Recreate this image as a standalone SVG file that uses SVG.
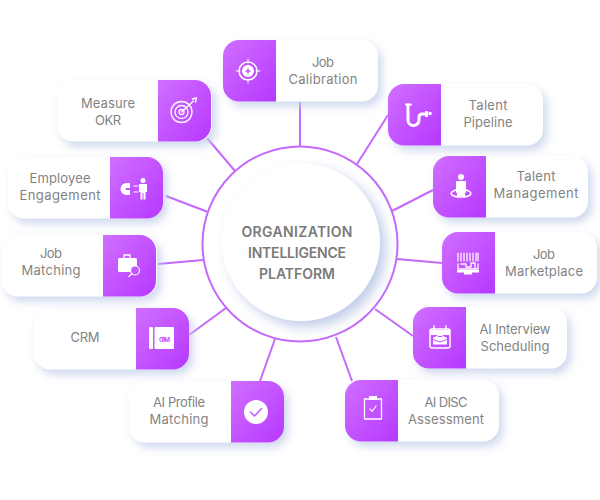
<svg xmlns="http://www.w3.org/2000/svg" width="600" height="500" viewBox="0 0 600 500">
<style>
text{font-family:Inter,"Liberation Sans",sans-serif;font-size:13px;fill:#838383;text-anchor:middle}
.c{font-size:14px;font-weight:600;fill:#7a7a7a}
.conn line{stroke:#c469fb;stroke-width:2}
.card{fill:#fff;filter:url(#sh)}
.wl{fill:none;stroke:#fff;stroke-width:1.500;stroke-linecap:round;stroke-linejoin:round}
.wf{fill:#fff}
.pu{fill:#c458ff}
.pl{fill:none;stroke:#c458ff;stroke-width:1.500;stroke-linecap:round;stroke-linejoin:round}
.grad{fill:url(#g)}
</style>
<defs>
<linearGradient id="g" x1="0" y1="0" x2="1" y2="1"><stop offset="0" stop-color="#d06fff"/><stop offset="1" stop-color="#b638ff"/></linearGradient>
<filter id="sh" x="-20%" y="-30%" width="140%" height="170%"><feDropShadow dx="4" dy="5" stdDeviation="4" flood-color="#c3cfea" flood-opacity=".8"/></filter>
<filter id="sh2" x="-20%" y="-20%" width="140%" height="140%"><feDropShadow dx="6" dy="6" stdDeviation="6" flood-color="#bfcbe8" flood-opacity=".95"/></filter>
<path id="lft" d="M16 0H53V61.500H16A16 16 0 0 1 0 45.500V16A16 16 0 0 1 16 0Z"/>
<path id="rgt" d="M0 0H37A16 16 0 0 1 53 16V45.500A16 16 0 0 1 37 61.500H0Z"/>
</defs>

<g id="connectors" class="conn">
<line x1="300" y1="102" x2="300" y2="148"/>
<line x1="388" y1="115" x2="357" y2="164"/>
<line x1="433" y1="190" x2="392" y2="211"/>
<line x1="442" y1="263" x2="397" y2="259"/>
<line x1="413" y1="336" x2="375" y2="309"/>
<line x1="352" y1="381" x2="336" y2="337"/>
<line x1="260" y1="381" x2="275" y2="339"/>
<line x1="189" y1="335" x2="226" y2="308"/>
<line x1="158" y1="264" x2="203" y2="260"/>
<line x1="166" y1="196" x2="208" y2="212"/>
<line x1="207" y1="138" x2="235" y2="171"/>
</g>

<g id="hub">
<circle cx="300" cy="244" r="97.500" fill="#fff" stroke="#c469fb" stroke-width="2"/>
<circle cx="301" cy="242" r="79" fill="#fff" filter="url(#sh2)"/>
<text class="c" x="297" y="237" textLength="111">ORGANIZATION</text>
<text class="c" x="297" y="258" textLength="98">INTELLIGENCE</text>
<text class="c" x="297" y="279" textLength="76">PLATFORM</text>
</g>

<g id="job-calibration">
<rect class="card" x="223" y="40" width="155" height="61.500" rx="16"/>
<use href="#lft" x="223" y="40" class="grad"/>
<g transform="translate(248,71)"><circle class="wl" r="9" stroke-width="1"/><circle class="wf" r="6"/><path class="pl" d="M-2 0H2M0-2V2"/><path class="wl" d="M0-12V-8M0 8V12M-12 0H-8M8 0H12" style="stroke-width:1"/></g>
<text x="323" y="67" textLength="22">Job</text><text x="323" y="84" textLength="69">Calibration</text>
</g>

<g id="talent-pipeline">
<rect class="card" x="388" y="84" width="155" height="61.500" rx="16"/>
<use href="#lft" x="388" y="84" class="grad"/>
<path class="wl" d="M406 104.500H411" style="stroke-width:2"/><path class="wl" d="M408 105V120A5.500 5.500 0 0 0 419 120V117A3 3 0 0 1 422 114H424" style="stroke-width:3"/><rect class="wf" x="425" y="111" width="3" height="6"/><circle class="wf" cx="430" cy="113.500" r="1.800"/>
<text x="488" y="110" textLength="39">Talent</text><text x="488" y="127" textLength="49">Pipeline</text>
</g>

<g id="talent-management">
<rect class="card" x="433" y="156" width="155" height="61.500" rx="16"/>
<use href="#lft" x="433" y="156" class="grad"/>
<g transform="translate(461,187)"><circle class="wf" cy="-10" r="3"/><rect class="wf" x="-5" y="-6" width="10" height="12" rx="1"/><rect class="wf" x="-4" y="5" width="8" height="4"/><path class="wl" d="M-5 3C-13 5-11 10 0 10S13 5 5 3"/></g>
<text x="536" y="181" textLength="39">Talent</text><text x="536" y="198" textLength="85">Management</text>
</g>

<g id="job-marketplace">
<rect class="card" x="442" y="232" width="155" height="61.500" rx="16"/>
<use href="#lft" x="442" y="232" class="grad"/>
<g transform="translate(468,263)"><path class="wl" d="M-10-10V-2M-7-10V-2M-4-10V-2M-1-10V-2M2-10V-2M5-10V-2M8-10V-2M10-10V-2" style="stroke-width:1.200"/><path class="wl" d="M-10 1V6H10V1M-7 1H-2V4H3V0H7V5" style="stroke-width:1.300"/><rect class="wf" x="-11" y="7" width="22" height="2.500"/><rect class="wf" x="-4" y="9" width="8" height="2.500"/></g>
<text x="544" y="259" textLength="22">Job</text><text x="544" y="276" textLength="78">Marketplace</text>
</g>

<g id="ai-interview-scheduling">
<rect class="card" x="413" y="307" width="154" height="61.500" rx="16"/>
<use href="#lft" x="413" y="307" class="grad"/>
<g transform="translate(440,338)"><rect class="wl" x="-10" y="-9" width="20" height="19" rx="2"/><path class="wf" d="M-10-8H10V-3H-10Z"/><path class="wl" d="M-6-12V-8M6-12V-8"/><path class="wf" d="M-7 0L0-4L7 0V6.500H-7Z"/><path class="pl" d="M-7 1.500L0 4L7 1.500M-2-1.500H2" style="stroke-width:1"/></g>
<text x="515" y="334" textLength="71">AI Interview</text><text x="515" y="351" textLength="69">Scheduling</text>
</g>

<g id="ai-disc-assessment">
<rect class="card" x="345" y="380" width="154" height="61.500" rx="16"/>
<use href="#lft" x="345" y="380" class="grad"/>
<g transform="translate(373,408)"><rect class="wl" x="-8.500" y="-9" width="17" height="20" style="stroke-width:1.300"/><rect class="wf" x="-4" y="-12" width="8" height="4"/><path class="wl" d="M-3 1L-1 3.500L3-2" style="stroke-width:1.200"/></g>
<text x="446" y="407" textLength="43">AI DISC</text><text x="446" y="424" textLength="76">Assessment</text>
</g>

<g id="ai-profile-matching">
<rect class="card" x="129" y="381" width="155" height="61.500" rx="16"/>
<use href="#rgt" x="231" y="381" class="grad"/>
<circle class="wf" cx="256" cy="412" r="12"/><path class="pl" d="M250.500 412L254.500 416L261.500 408.500"/>
<text x="179" y="407" textLength="52">AI Profile</text><text x="179" y="424" textLength="59">Matching</text>
</g>

<g id="crm">
<rect class="card" x="34" y="308" width="155" height="61.500" rx="16"/>
<use href="#rgt" x="136" y="308" class="grad"/>
<rect class="wf" x="149" y="327" width="4" height="22" rx="1"/><rect class="wf" x="154.500" y="327" width="19.500" height="22" rx="1"/>
<text x="164.500" y="341.500" textLength="11" style="font-size:6.500px;font-weight:700;fill:#c458ff">CRM</text>
<text x="85" y="342" textLength="29">CRM</text>
</g>

<g id="job-matching">
<rect class="card" x="2" y="235" width="155" height="61.500" rx="16"/>
<use href="#rgt" x="103" y="235" class="grad"/>
<g transform="translate(128,264)"><rect class="wf" x="-10" y="-6" width="19" height="14" rx="1.500"/><path class="wl" d="M-4-6V-9H2V-6" style="stroke-width:1.300"/><circle cx="7" cy="6.500" r="4.500" fill="#c458ff" stroke="#fff" stroke-width="1.200"/><path class="wl" d="M4 9.500L1 12.500" style="stroke-width:1.300"/></g>
<text x="51" y="258" textLength="22">Job</text><text x="51" y="275" textLength="59">Matching</text>
</g>

<g id="employee-engagement">
<rect class="card" x="8" y="157" width="155" height="61.500" rx="16"/>
<use href="#rgt" x="110" y="157" class="grad"/>
<path class="wl" d="M130 185.500H126.500A3.500 3.500 0 0 0 126.500 192.500H130" style="stroke-width:5;stroke-linecap:butt"/><path class="wl" d="M134 186H138M134 192H138" style="stroke-width:1"/>
<circle class="wf" cx="143" cy="180.500" r="2.500"/><path class="wf" d="M139 184H147V192H145.500V199.500H143.500V193H142.500V199.500H140.500V192H139Z"/>
<text x="60" y="183" textLength="61">Employee</text><text x="60" y="200" textLength="81">Engagement</text>
</g>

<g id="measure-okr">
<rect class="card" x="57" y="80" width="155" height="61.500" rx="16"/>
<use href="#rgt" x="158" y="80" class="grad"/>
<g transform="translate(181.500,112)" fill="none" stroke="#fff" stroke-width="1.300"><circle r="10.500"/><circle r="6.500"/><circle r="2.500"/><path d="M0 0L12-11M11-13L15-14L14-10" stroke-linecap="round"/></g>
<text x="108" y="108" textLength="54">Measure</text><text x="108" y="125" textLength="26">OKR</text>
</g>
</svg>
